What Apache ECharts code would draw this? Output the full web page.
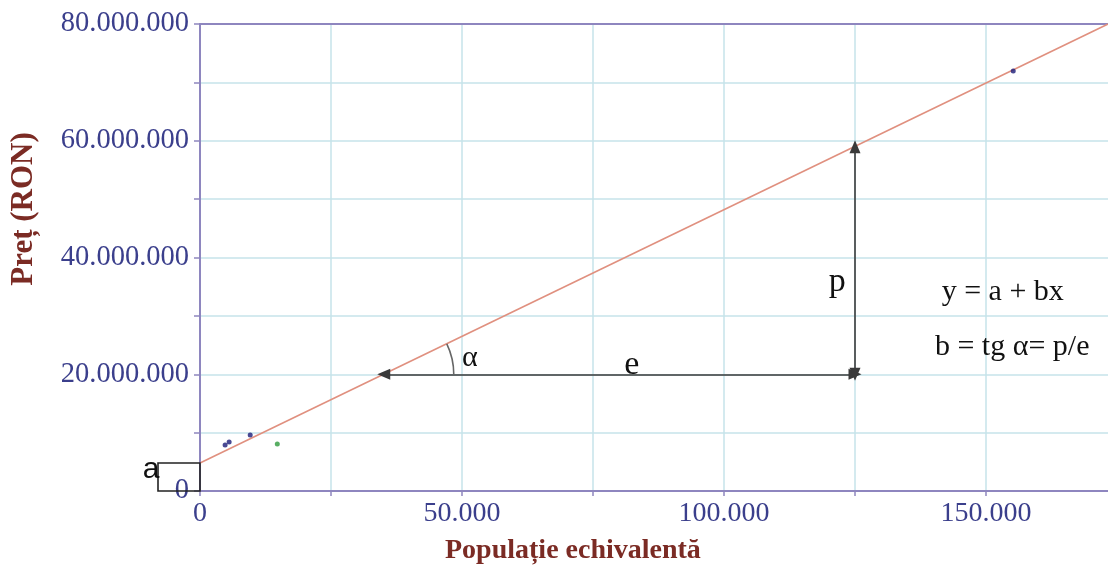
<!DOCTYPE html>
<html>
<head>
<meta charset="utf-8">
<script src="https://cdn.jsdelivr.net/npm/echarts@6/dist/echarts.min.js"></script>
<style>html,body{margin:0;padding:0;background:#fff;overflow:hidden;width:1108px;height:572px;}#c{width:1120px;height:572px;}</style>
</head>
<body>
<div id="c"></div>
<script>
// ---- data ----
const bluePoints = [[4790, 7880000], [5560, 8390000], [9580, 9590000], [155200, 71950000]];
const greenPoints = [[14750, 8050000]];
const interceptA = 4800000;          // a
const fitLineX = [0, 173300];
const fitLineY = [4800000, 80000000];
const xTicks = [0, 50000, 100000, 150000];
const yTicks = [0, 20000000, 40000000, 60000000, 80000000];
const eArrow = [[35070, 20000000], [125000, 20000000]];
const pArrow = [[125000, 20000000], [125000, 58980000]];
const annotations = [
  ['p', 121600, 35800000, 34],
  ['e', 82400, 21600000, 34],
  ['α', 51500, 22800000, 30],
  ['y = a + bx', 153200, 34100000, 30],
  ['b = tg α= p/e', 155000, 24700000, 30]
];
const xName = 'Populație echivalentă';
const yName = 'Preț (RON)';

const FONT = '"Liberation Serif", "Times New Roman", serif';
const LABEL_COLOR = '#3b3f8c';
const TITLE_COLOR = '#7b2b24';
const AXIS_COLOR = '#8e86bf';
const GRID_COLOR = '#c6e3ea';

function dots(v) { return String(Math.round(v)).replace(/\B(?=(\d{3})+(?!\d))/g, '.'); }

const chart = echarts.init(document.getElementById('c'));
const fitLine = fitLineX.map((x, i) => [x, fitLineY[i]]);

const option = {
  animation: false,
  backgroundColor: '#fff',
  grid: { left: 200, right: 3, top: 24, bottom: 81, containLabel: false },
  xAxis: [{
    type: 'value', min: 0, max: 175000, interval: 25000,
    axisLine: { show: true, onZero: false, lineStyle: { color: AXIS_COLOR, width: 2 } },
    axisTick: { show: true, length: 5, lineStyle: { color: AXIS_COLOR, width: 1.5 } },
    splitLine: { show: true, lineStyle: { color: GRID_COLOR, width: 1.5 } },
    axisLabel: {
      margin: 9, fontFamily: FONT, fontSize: 28, color: LABEL_COLOR,
      formatter: v => xTicks.indexOf(v) >= 0 ? dots(v) : ''
    }
  }, {
    type: 'value', position: 'top', min: 0, max: 175000,
    axisLine: { show: true, onZero: false, lineStyle: { color: AXIS_COLOR, width: 2 } },
    axisTick: { show: false }, axisLabel: { show: false }, splitLine: { show: false }
  }],
  yAxis: {
    type: 'value', min: 0, max: 80000000, interval: 10000000,
    axisLine: { show: true, onZero: false, lineStyle: { color: AXIS_COLOR, width: 2 } },
    axisTick: { show: true, length: 6, lineStyle: { color: AXIS_COLOR, width: 1.5 } },
    splitLine: { show: true, lineStyle: { color: GRID_COLOR, width: 1.5 } },
    axisLabel: {
      margin: 11, fontFamily: FONT, fontSize: 28.5, color: LABEL_COLOR,
      formatter: v => yTicks.indexOf(v) >= 0 ? dots(v) : ''
    }
  },
  series: [
    {
      type: 'line', data: fitLine, showSymbol: false, symbol: 'none', z: 3,
      lineStyle: { color: '#e0907f', width: 1.6 },
      markLine: {
        silent: true, symbol: ['triangle', 'triangle'], symbolSize: [11, 13], z: 5,
        label: { show: false },
        itemStyle: { color: '#000' },
        lineStyle: { color: '#3a3a3a', width: 1.6, type: 'solid' },
        data: [
          [{ coord: eArrow[0] }, { coord: eArrow[1] }],
          [{ coord: pArrow[0] }, { coord: pArrow[1] }]
        ]
      }
    },
    {
      type: 'scatter', data: bluePoints, symbol: 'circle', symbolSize: 5, z: 4,
      itemStyle: { color: '#1c1c78' }
    },
    {
      type: 'scatter', data: greenPoints, symbol: 'circle', symbolSize: 5, z: 4,
      itemStyle: { color: '#2e9a3c' }
    },
    {
      // angle arc alpha
      type: 'custom', z: 5, silent: true, clip: false,
      data: [[eArrow[0][0], eArrow[0][1]]],
      renderItem: function (params, api) {
        const c = api.coord([api.value(0), api.value(1)]);
        const p1 = api.coord(fitLine[0]);
        const p2 = api.coord(fitLine[1]);
        const th = Math.atan2(p1[1] - p2[1], p2[0] - p1[0]);
        return {
          type: 'arc',
          shape: { cx: c[0], cy: c[1], r: 70, startAngle: -th, endAngle: 0, clockwise: true },
          style: { stroke: '#666', lineWidth: 1.6, fill: null }
        };
      }
    },
    {
      // text annotations
      type: 'custom', z: 6, silent: true, clip: false,
      data: annotations.map(a => [a[1], a[2]]),
      renderItem: function (params, api) {
        const a = annotations[params.dataIndex];
        const p = api.coord([api.value(0), api.value(1)]);
        return {
          type: 'text',
          style: {
            text: a[0], x: p[0], y: p[1], align: 'center', verticalAlign: 'middle',
            font: a[3] + 'px ' + FONT, fill: '#111'
          }
        };
      }
    },
    {
      // box marking intercept a
      type: 'custom', z: 6, silent: true, clip: false,
      data: [[0, interceptA]],
      renderItem: function (params, api) {
        const top = api.coord([0, api.value(1)]);
        const bot = api.coord([0, 0]);
        return {
          type: 'group',
          children: [
            { type: 'rect', shape: { x: top[0] - 42, y: top[1], width: 42, height: bot[1] - top[1] },
              style: { stroke: '#222', lineWidth: 1.6, fill: null } },
            { type: 'text', style: { text: 'a', x: top[0] - 49, y: top[1] + 7, align: 'center', verticalAlign: 'middle',
              font: '30px "Liberation Sans Narrow", "Liberation Sans", sans-serif', fill: '#111' } }
          ]
        };
      }
    }
  ],
  graphic: [
    { type: 'text', left: 445, top: 537, style: { text: xName, font: 'bold 28px ' + FONT, fill: TITLE_COLOR } },
    { type: 'text', x: 24, y: 209, rotation: Math.PI / 2,
      style: { text: yName, font: 'bold 31px ' + FONT, fill: TITLE_COLOR, align: 'center', verticalAlign: 'middle' } }
  ]
};
chart.setOption(option);
</script>
</body>
</html>
